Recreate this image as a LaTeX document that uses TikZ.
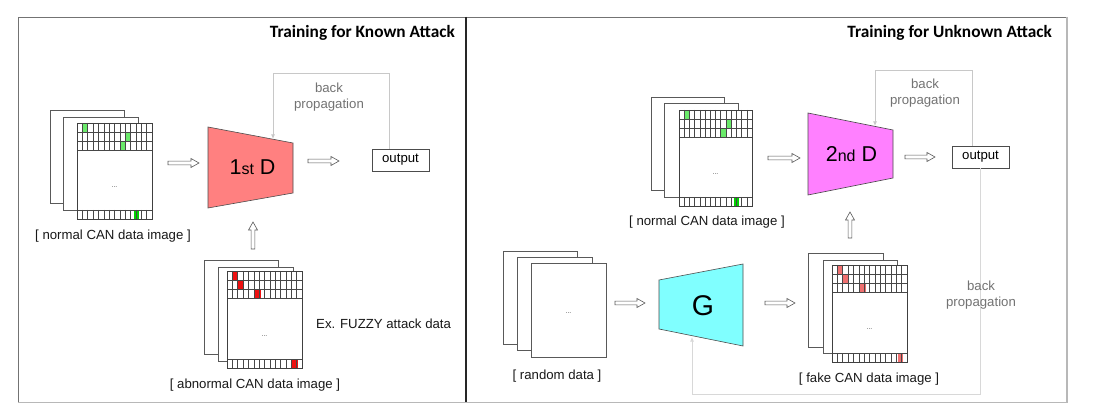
\documentclass[tikz,border=0pt]{standalone}
\usepackage{fontspec}
\setmainfont{Liberation Sans}
\newfontfamily\titlefont{Carlito}
\usetikzlibrary{calc,arrows.meta}
\definecolor{dred}{HTML}{FF8080}
\definecolor{dmag}{HTML}{FF80FF}
\definecolor{gcyan}{HTML}{80FFFF}
\definecolor{lgreen}{HTML}{6AEA6A}
\definecolor{dgreen}{HTML}{00D000}
\definecolor{bred}{HTML}{EE1111}
\definecolor{pred}{HTML}{F07070}
\definecolor{bpgray}{HTML}{C8C8C8}
\definecolor{bpgraylow}{HTML}{D8D8D8}
% front sheet with CAN grid: #1 L, #2 T, #3 R, #4 B, #5 list col/row/colour (row 3 = bottom row)
\newcommand\canimage[5]{%
  \fill[white] (#1,#2) rectangle (#3,#4);
  \pgfmathsetmacro\cwid{(#3-#1)/14}
  \foreach \c/\r/\cc in {#5}{
    \pgfmathsetmacro\cyy{\r==3 ? #4-9 : #2+\r*9}
    \fill[\cc] ({#1+\c*\cwid},\cyy) rectangle ++(\cwid,9);
  }
  \foreach \i in {1,...,13}{
    \draw[gridline] ({#1+\i*\cwid},#2) -- ({#1+\i*\cwid},#2+27);
    \draw[gridline] ({#1+\i*\cwid},#4-9) -- ({#1+\i*\cwid},#4);
  }
  \foreach \j in {1,2,3}{\draw[gridline] (#1,#2+\j*9) -- (#3,#2+\j*9);}
  \draw[gridline] (#1,#4-9) -- (#3,#4-9);
  \draw[frontsheet] (#1,#2) rectangle (#3,#4);
}
\newcommand\hollowH[2]{\draw[hollow] ($(#1)+(0,-1.9)$) -- ($(#2)+(-8,-1.9)$) -- ($(#2)+(-8,-4.5)$) -- (#2) -- ($(#2)+(-8,4.5)$) -- ($(#2)+(-8,1.9)$) -- ($(#1)+(0,1.9)$) -- cycle;}
\newcommand\hollowV[2]{\draw[hollow] ($(#1)+(-1.9,0)$) -- ($(#2)+(-1.9,8)$) -- ($(#2)+(-4.5,8)$) -- (#2) -- ($(#2)+(4.5,8)$) -- ($(#2)+(1.9,8)$) -- ($(#1)+(1.9,0)$) -- cycle;}
\begin{document}
\begin{tikzpicture}[x=1pt,y=-1pt,
  sheet/.style={draw=black!65, line width=0.7pt, fill=white},
  frontsheet/.style={draw=black!75, line width=0.7pt},
  gridline/.style={draw=black!72, line width=0.5pt},
  hollow/.style={draw=black!65, fill=white, line width=0.6pt, line join=miter},
  lbl/.style={font=\fontsize{13.2}{15.5}\selectfont, text=black!90, inner sep=0pt},
  bptext/.style={font=\fontsize{13.2}{15.5}\selectfont, text=black!55, align=center, inner sep=0pt},
  bpline/.style={draw=bpgray, line width=1pt, -{Latex[length=4.5pt,width=4pt]}},
  outbox/.style={draw=black!70, line width=0.7pt, fill=white, minimum width=57pt, minimum height=22pt, inner sep=0pt, font=\fontsize{13.2}{15.5}\selectfont},
  trap/.style={draw=black!70, line width=0.6pt},
  dotstyle/.style={font=\fontsize{7}{8}\selectfont, text=black!70, inner sep=0pt},
  paneltitle/.style={font=\titlefont\bfseries\fontsize{17.3}{19}\selectfont, inner sep=0pt},
  biglbl/.style={inner sep=0pt, text=black},
]
\useasboundingbox (0,0) rectangle (1094,419);
\fill[white] (0,0) rectangle (1094,419);

% ---------- panels ----------
\draw[draw=black!55, line width=0.8pt] (18,402) -- (18,17) -- (1067,17);
\draw[draw=black!28, line width=1.8pt] (18,402.5) -- (1067,402.5);
\draw[draw=black!28, line width=1.5pt] (1067,17) -- (1067,403);
\draw[draw=black!85, line width=1.2pt] (466,17) -- (466,402);
\node[paneltitle, anchor=base east] (t1) at (455,37.3) {Training for Known Attack};
\node[paneltitle, anchor=base east] (t2) at (1052,37.3) {Training for Unknown Attack};

% ---------- left panel ----------
% normal CAN data image stack
\draw[sheet] (50,110) rectangle (124,203);
\draw[sheet] (63,117) rectangle (138,210);
\canimage{77}{123}{152}{219}{1/0/lgreen, 9/1/lgreen, 8/2/lgreen, 10.6/3/dgreen}
\node[dotstyle, anchor=base] (ldots1) at (114.5,188) {...};
\node[lbl, anchor=base] (lnorm) at (113,240) {[ normal CAN data image ]};

% abnormal stack
\draw[sheet] (204,260) rectangle (278,354);
\draw[sheet] (218,267) rectangle (293,361);
\canimage{227}{271}{302}{368}{1/0/bred, 2/1/bred, 5.3/2/bred, 12.2/3/bred}
\node[dotstyle, anchor=base] (ldots2) at (264.5,336) {...};
\node[lbl, anchor=base] (labn) at (255,388) {[ abnormal CAN data image ]};
\node[lbl, anchor=base west] (lfuzzy) at (316,328) {Ex. FUZZY attack data};

% 1st D
\coordinate (d1a) at (208,127);
\coordinate (d1b) at (293,143);
\coordinate (d1c) at (293,193);
\coordinate (d1d) at (208,208);
\filldraw[trap, fill=dred] (d1a) -- (d1b) -- (d1c) -- (d1d) -- cycle;
\node[biglbl, anchor=base] (d1lbl) at (252.5,175) {\fontsize{21.5}{24}\selectfont 1{\fontsize{16}{18}\selectfont st} D};

% output
\node[outbox] (out1) at (400.5,160) {output};

% back propagation (left)
\coordinate (bp1top) at (273,74);
\coordinate (d1hit) at (273,139);
\draw[bpline] ($(out1.north west)+(18,0)$) |- (bp1top) -- (d1hit);
\node[bptext] (bp1) at (329,97) {back\\propagation};

% hollow arrows (left)
\coordinate (a1s) at (168,163); \coordinate (a1e) at (199,163);
\coordinate (a2s) at (308,161); \coordinate (a2e) at (339,161);
\coordinate (a3s) at (253,249); \coordinate (a3e) at (253,222);
\hollowH{a1s}{a1e}
\hollowH{a2s}{a2e}
\hollowV{a3s}{a3e}

% ---------- right panel ----------
% normal stack
\draw[sheet] (651,97) rectangle (724,190);
\draw[sheet] (664,103) rectangle (738,197);
\canimage{679}{110}{752}{206}{1/0/lgreen, 9/1/lgreen, 8/2/lgreen, 10.6/3/dgreen}
\node[dotstyle, anchor=base] (rdots1) at (715.5,175) {...};
\node[lbl, anchor=base] (rnorm) at (707,226) {[ normal CAN data image ]};

% 2nd D
\coordinate (d2a) at (808,113);
\coordinate (d2b) at (893,130);
\coordinate (d2c) at (893,178);
\coordinate (d2d) at (808,195);
\filldraw[trap, fill=dmag] (d2a) -- (d2b) -- (d2c) -- (d2d) -- cycle;
\node[biglbl, anchor=base] (d2lbl) at (851.5,162) {\fontsize{21.5}{24}\selectfont 2{\fontsize{16}{18}\selectfont nd} D};

% output
\node[outbox] (out2) at (980.5,157) {output};

% random data stack
\draw[sheet] (503,251) rectangle (577,344);
\draw[sheet] (517,257) rectangle (592,350);
\draw[sheet] (531,263) rectangle (606,357);
\node[dotstyle, anchor=base] (rdots2) at (568.5,313) {...};
\node[lbl, anchor=base] (rrand) at (557,379) {[ random data ]};

% G
\coordinate (ga) at (659,280);
\coordinate (gb) at (743,264);
\coordinate (gc) at (743,346);
\coordinate (gd) at (659,329);
\filldraw[trap, fill=gcyan] (ga) -- (gb) -- (gc) -- (gd) -- cycle;
\node[biglbl, anchor=base] (glbl) at (703,316) {\fontsize{28.5}{32}\selectfont G};

% fake stack
\draw[sheet] (808,253) rectangle (883,347);
\draw[sheet] (823,260) rectangle (897,353);
\canimage{832}{265}{907}{362}{1/0/pred, 2/1/pred, 5.3/2/pred, 12.3/3/pred}
\node[dotstyle, anchor=base] (rdots3) at (869.5,330) {...};
\node[lbl, anchor=base] (rfake) at (869,382) {[ fake CAN data image ]};

% back propagation (upper right)
\coordinate (bp2top) at (875,71);
\coordinate (d2hit) at (875,126);
\draw[bpline] ($(out2.north west)+(21,0)$) |- (bp2top) -- (d2hit);
\node[bptext] (bp2) at (925,93) {back\\propagation};

% back propagation (lower right)
\coordinate (bp3bot) at (692,394);
\coordinate (ghit) at (692,337);
\draw[bpline, draw=bpgraylow] ($(out2.south west)+(29,0)$) |- (bp3bot) -- (ghit);
\node[bptext] (bp3) at (981,295) {back\\propagation};

% hollow arrows (right)
\coordinate (b1s) at (768,158); \coordinate (b1e) at (800,158);
\coordinate (b2s) at (905,157); \coordinate (b2e) at (935,157);
\coordinate (b3s) at (850,238); \coordinate (b3e) at (850,212);
\coordinate (b4s) at (615,303); \coordinate (b4e) at (645,303);
\coordinate (b5s) at (765,303); \coordinate (b5e) at (795,303);
\hollowH{b1s}{b1e}
\hollowH{b2s}{b2e}
\hollowV{b3s}{b3e}
\hollowH{b4s}{b4e}
\hollowH{b5s}{b5e}
\end{tikzpicture}
\end{document}
